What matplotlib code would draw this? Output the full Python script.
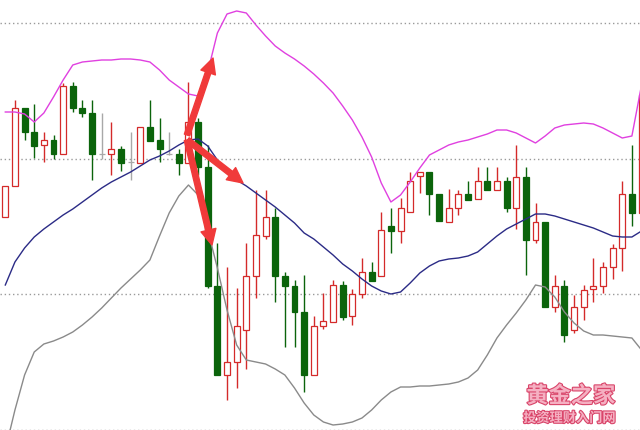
import numpy as np
import matplotlib
matplotlib.use("Agg")
import matplotlib.pyplot as plt
import matplotlib.patheffects as pe

# daily candles (open, high, low, close)
opens = [1221.3, 1224.4, 1232.2, 1229.8, 1228.5, 1229.0, 1227.6, 1234.4, 1232.2, 1231.7,
         1227.6, 1227.6, 1228.1, 1226.8, 1226.7, 1230.3, 1229.0, 1227.6, 1227.6, 1226.7,
         1230.8, 1226.3, 1214.4, 1205.5, 1206.8, 1210.0, 1215.4, 1219.4, 1221.3, 1215.4,
         1214.4, 1211.8, 1205.5, 1210.4, 1210.8, 1214.5, 1211.4, 1213.6, 1215.8, 1215.4,
         1220.4, 1219.9, 1221.8, 1225.4, 1225.8, 1223.6, 1220.8, 1222.2, 1223.6, 1223.1,
         1224.9, 1224.0, 1224.9, 1222.2, 1225.3, 1219.0, 1220.8, 1212.3, 1214.4, 1210.0,
         1212.3, 1214.1, 1214.4, 1216.3, 1218.2, 1223.6, 1221.7]
highs = [1224.4, 1233.0, 1232.2, 1232.6, 1229.8, 1229.5, 1234.7, 1234.8, 1233.0, 1233.0,
         1231.7, 1230.8, 1228.4, 1229.8, 1230.3, 1233.0, 1231.2, 1229.8, 1228.1, 1234.8,
         1231.2, 1228.5, 1218.7, 1216.3, 1214.2, 1218.7, 1224.0, 1224.0, 1222.2, 1215.8,
         1215.0, 1215.5, 1211.4, 1213.7, 1215.0, 1214.9, 1214.1, 1217.2, 1216.8, 1221.8,
         1222.2, 1223.2, 1225.8, 1225.8, 1225.8, 1223.6, 1224.1, 1224.0, 1224.9, 1226.3,
         1226.3, 1226.3, 1225.3, 1228.5, 1226.3, 1222.7, 1220.8, 1215.5, 1215.0, 1213.5,
         1214.5, 1217.2, 1216.8, 1218.6, 1224.9, 1228.5, 1234.0]
lows = [1221.3, 1224.4, 1229.0, 1227.2, 1226.8, 1227.1, 1227.6, 1231.8, 1231.3, 1225.0,
        1227.1, 1225.5, 1225.9, 1225.0, 1226.7, 1228.9, 1226.8, 1227.5, 1225.5, 1226.7,
        1225.5, 1214.2, 1205.5, 1203.0, 1204.2, 1206.1, 1213.2, 1219.1, 1212.8, 1208.3,
        1208.3, 1203.8, 1205.5, 1210.1, 1210.8, 1211.0, 1210.5, 1213.2, 1214.9, 1215.4,
        1217.7, 1218.7, 1221.8, 1223.7, 1221.5, 1220.9, 1220.8, 1221.5, 1223.0, 1223.1,
        1224.0, 1224.0, 1221.8, 1220.1, 1215.5, 1218.7, 1212.3, 1211.8, 1208.8, 1209.7,
        1211.0, 1212.8, 1213.7, 1215.1, 1215.9, 1220.4, 1221.7]
closes = [1224.4, 1232.2, 1229.8, 1228.4, 1229.0, 1227.6, 1234.4, 1232.2, 1231.7, 1227.6,
          1227.6, 1228.1, 1226.7, 1226.8, 1230.3, 1228.9, 1228.1, 1227.6, 1226.7, 1230.8,
          1226.3, 1214.4, 1205.5, 1206.8, 1210.4, 1215.4, 1219.5, 1221.3, 1215.4, 1214.4,
          1211.8, 1205.5, 1210.4, 1210.9, 1214.5, 1211.3, 1213.6, 1215.8, 1214.9, 1220.0,
          1219.9, 1222.2, 1224.9, 1225.8, 1223.6, 1220.9, 1222.2, 1223.6, 1223.0, 1224.9,
          1224.0, 1224.9, 1222.2, 1225.3, 1219.0, 1220.8, 1212.3, 1214.4, 1209.5, 1212.3,
          1214.0, 1214.4, 1216.3, 1218.2, 1223.6, 1221.7, 1233.5]

# bollinger bands
upper = [1231.8, 1231.8, 1231.6, 1230.8, 1231.7, 1233.3, 1235.0, 1236.5, 1236.8, 1236.9,
         1237.0, 1237.0, 1237.1, 1237.1, 1237.0, 1236.8, 1236.0, 1235.0, 1234.3, 1233.6,
         1233.4, 1235.8, 1239.7, 1241.6, 1241.9, 1241.7, 1240.5, 1239.4, 1238.4, 1237.7,
         1237.1, 1236.4, 1235.6, 1234.7, 1233.7, 1232.4, 1231.0, 1229.3, 1227.3, 1224.7,
         1222.8, 1223.5, 1224.8, 1226.2, 1227.5, 1228.0, 1228.5, 1228.8, 1229.0, 1229.3,
         1229.6, 1230.0, 1230.0, 1229.7, 1229.2, 1228.7, 1229.4, 1230.2, 1230.5, 1230.6,
         1230.7, 1230.6, 1230.2, 1229.7, 1229.2, 1229.4, 1234.5]
middle = [1214.5, 1216.8, 1218.2, 1219.3, 1220.1, 1220.8, 1221.5, 1222.1, 1222.8, 1223.5,
          1224.2, 1224.8, 1225.3, 1225.8, 1226.4, 1227.0, 1227.4, 1227.9, 1228.5, 1229.0,
          1229.1, 1228.4, 1227.0, 1225.9, 1225.0, 1224.4, 1223.7, 1223.0, 1222.3, 1221.5,
          1220.7, 1219.7, 1219.1, 1218.3, 1217.5, 1216.6, 1215.9, 1215.1, 1214.4, 1213.9,
          1213.6, 1213.8, 1214.7, 1215.7, 1216.4, 1216.9, 1217.1, 1217.2, 1217.4, 1217.8,
          1218.6, 1219.4, 1220.1, 1220.6, 1221.1, 1221.6, 1221.6, 1221.4, 1221.1, 1220.8,
          1220.5, 1220.2, 1219.8, 1219.4, 1219.3, 1219.3, 1219.9]
lower = [1198.0, 1202.0, 1205.5, 1207.8, 1208.6, 1208.9, 1209.3, 1209.8, 1210.5, 1211.3,
         1212.2, 1213.2, 1214.2, 1215.1, 1216.0, 1217.0, 1219.4, 1221.7, 1223.4, 1224.5,
         1223.5, 1220.0, 1216.2, 1212.0, 1208.5, 1207.0, 1206.8, 1206.6, 1206.1, 1205.5,
         1204.2, 1202.7, 1201.5, 1200.8, 1200.5, 1200.6, 1200.8, 1201.2, 1202.0, 1203.0,
         1203.8, 1204.3, 1204.3, 1204.4, 1204.4, 1204.5, 1204.6, 1204.8, 1205.2, 1206.0,
         1207.5, 1209.2, 1210.5, 1211.7, 1213.0, 1214.5, 1214.3, 1213.3, 1211.8, 1210.7,
         1209.9, 1209.5, 1209.5, 1209.4, 1209.3, 1209.2, 1208.0]

grid_levels = [1200.05, 1213.6, 1227.15, 1240.75]

# arrows: start (day, price) -> tip (day, price)
arrow_start = [(18.85, 1229.5), (18.9, 1229.0), (18.85, 1229.0)]
arrow_end = [(21.55, 1237.2), (24.66, 1224.7), (21.44, 1218.5)]

fig = plt.figure(figsize=(6.4, 4.3), dpi=100)
ax = fig.add_axes([0, 0, 1, 1])

for lvl in grid_levels:
    ax.axhline(lvl, color="#9a9a9a", lw=1.0, ls=(0, (1, 2)), zorder=0)

x = np.arange(len(opens))
o = np.array(opens)
c = np.array(closes)
colors = np.where(c > o, "#d42a2a", np.where(c < o, "#0b640b", "#a8a8a8"))
faces = np.where(c < o, "#0b640b", "white")

ax.vlines(x, lows, highs, colors=colors, lw=1.0, zorder=1)
height = np.abs(c - o)
height = np.where(height < 0.05, 0.05, height)
ax.bar(x, height, bottom=np.minimum(o, c), width=0.62, color=faces,
       edgecolor=colors, linewidth=0.9, zorder=2)

ax.plot(x, upper, color="#e040e0", lw=1.0, zorder=3)
ax.plot(x, middle, color="#2b2b86", lw=1.0, zorder=3)
ax.plot(x, lower, color="#8a8a8a", lw=1.0, zorder=3)

for s, e in zip(arrow_start, arrow_end):
    ax.annotate("", xy=e, xytext=s,
                arrowprops=dict(arrowstyle="simple,head_length=1.1,head_width=1.1,tail_width=0.4",
                                color="#f03a3a", shrinkA=0, shrinkB=0, mutation_scale=10),
                zorder=5)

ax.set_xlim(-0.55, 65.84)
ax.set_ylim(1200.0, 1243.0)
ax.axis("off")

stroke = [pe.withStroke(linewidth=1.6, foreground="#d9456a")]
ax.text(0.892, 0.079, "黄金之家", transform=ax.transAxes, ha="center", va="center",
        fontsize=16, color="#f5b0c2", fontweight="bold",
        family=["Noto Sans CJK SC", "DejaVu Sans"], path_effects=stroke, zorder=6)
ax.text(0.89, 0.028, "投资理财入门网", transform=ax.transAxes, ha="center", va="center",
        fontsize=9.5, color="#f5b0c2", fontweight="bold",
        family=["Noto Sans CJK SC", "DejaVu Sans"], path_effects=stroke, zorder=6)

fig.savefig("out.png", dpi=100)
